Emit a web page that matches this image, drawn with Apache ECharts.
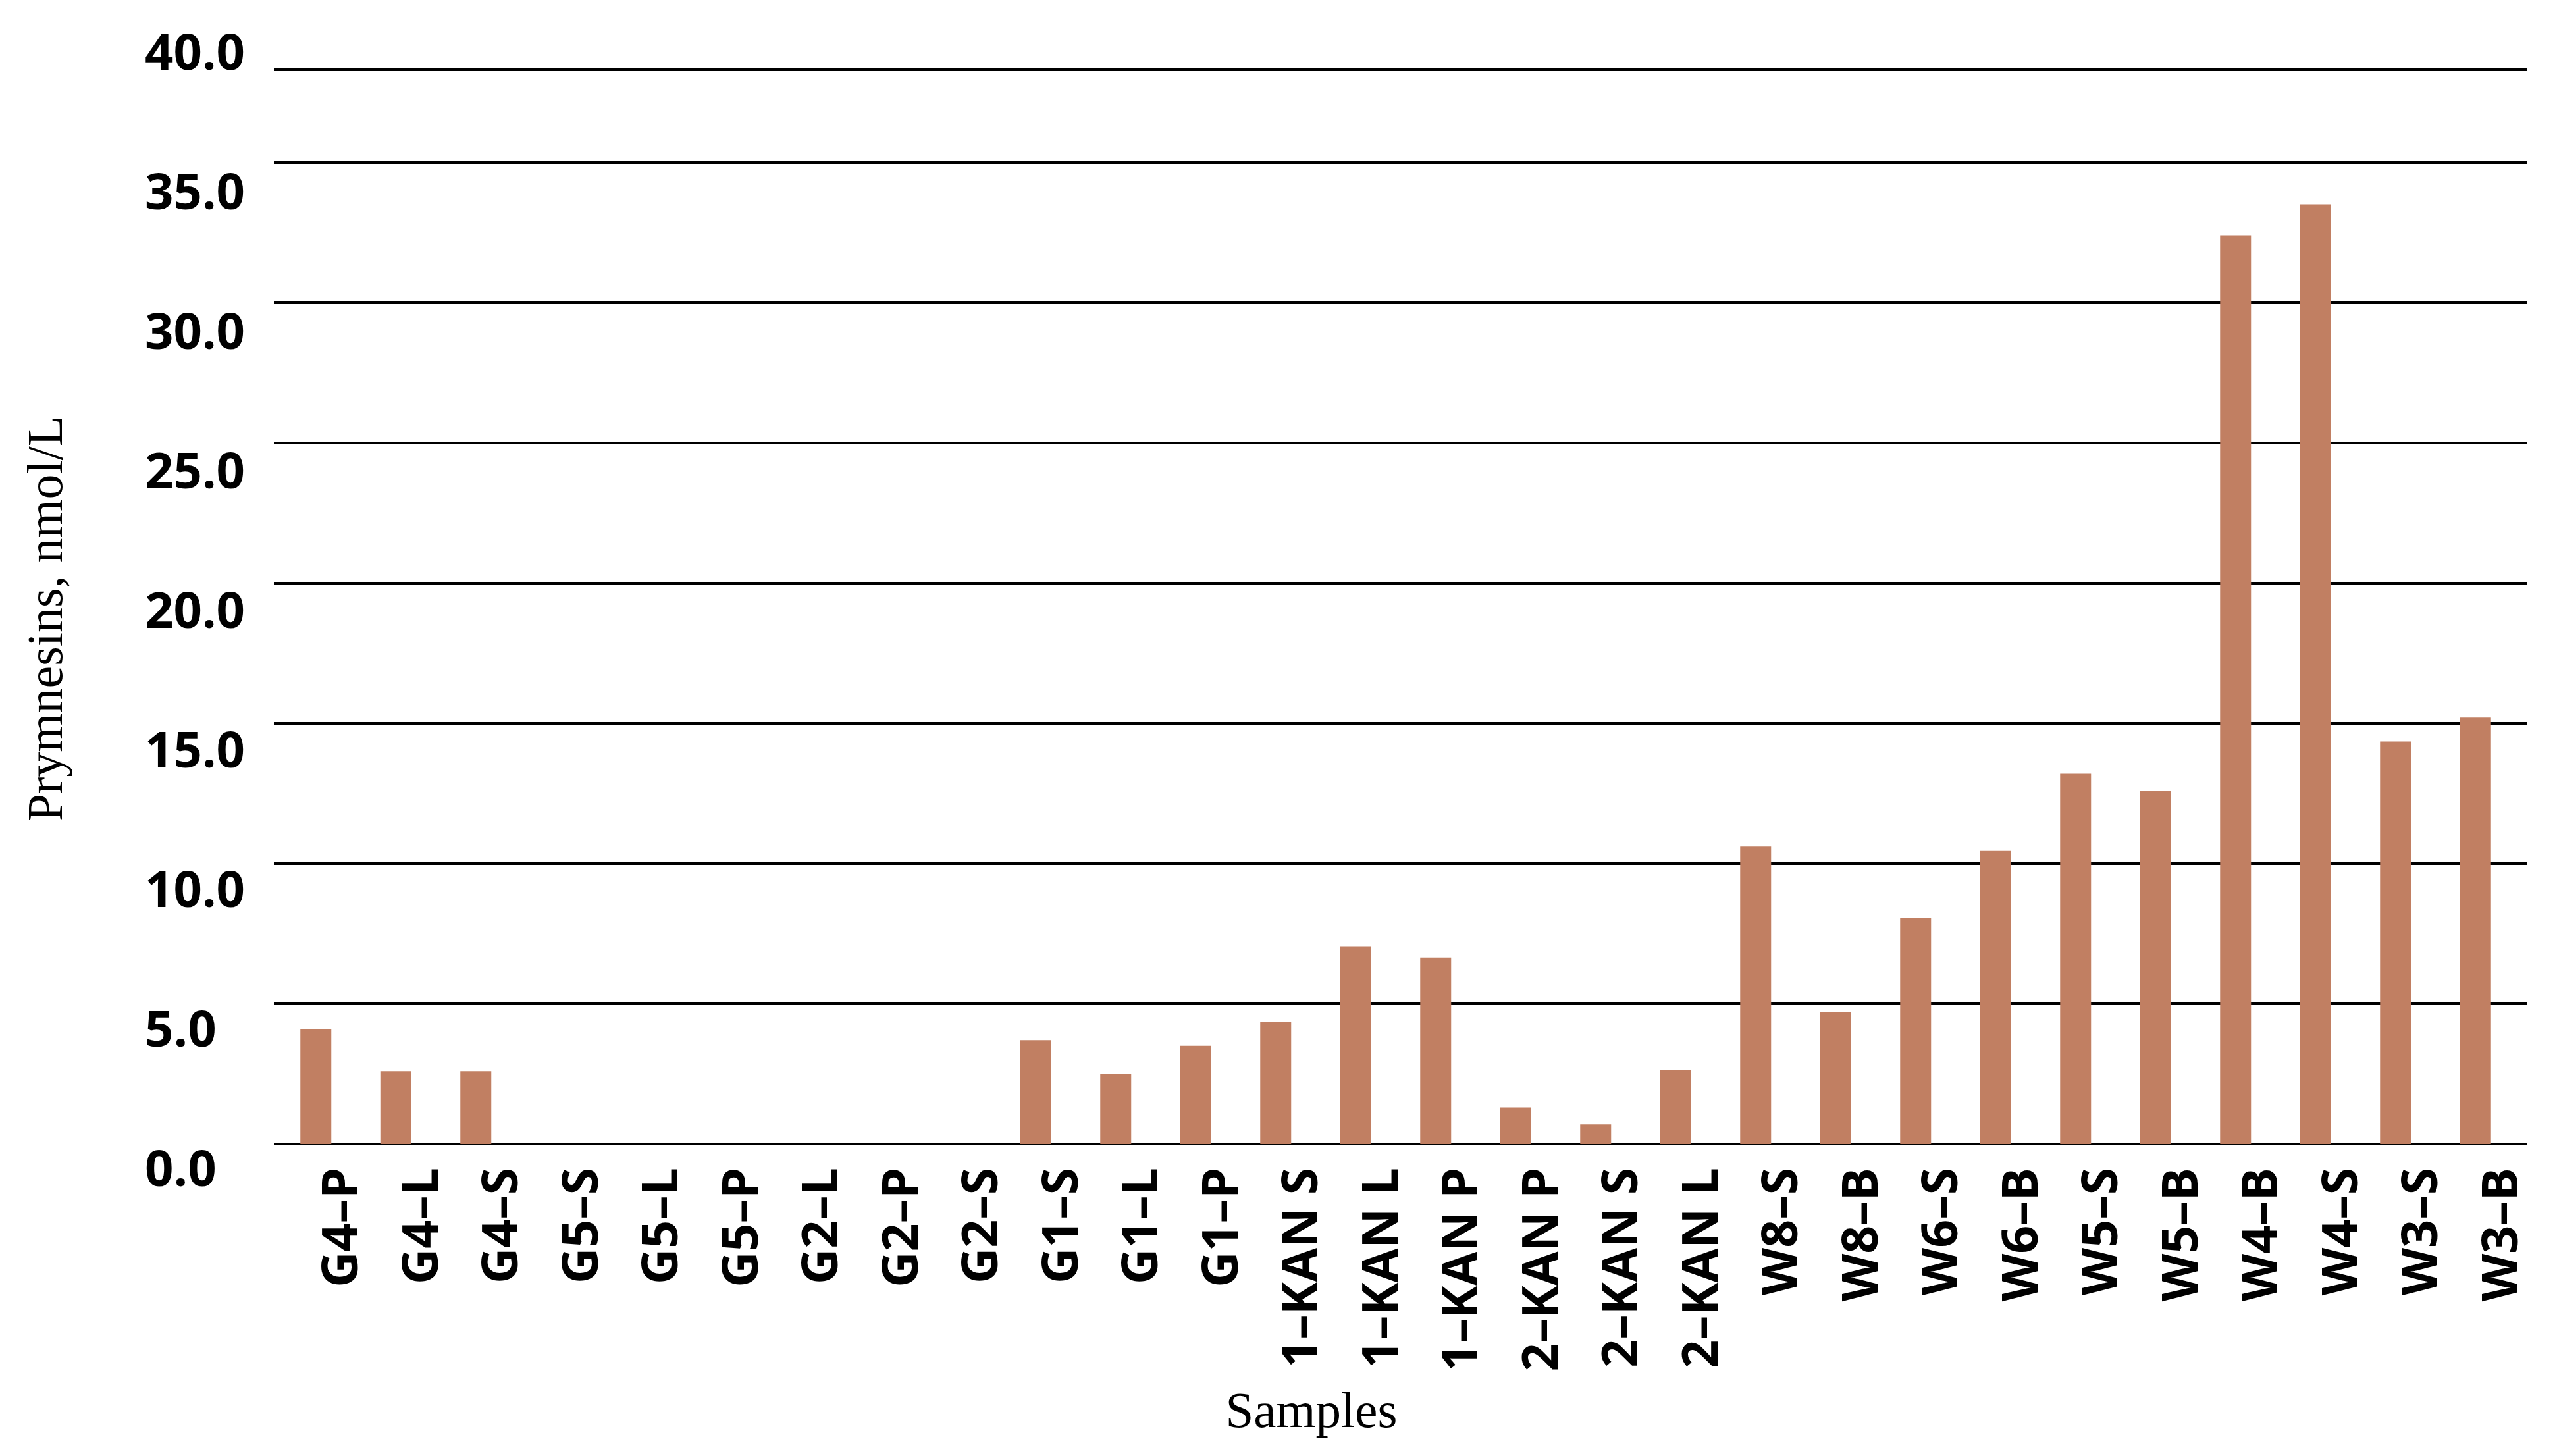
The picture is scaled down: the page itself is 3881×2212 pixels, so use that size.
<!DOCTYPE html>
<html>
<head>
<meta charset="utf-8">
<script src="https://cdn.jsdelivr.net/npm/echarts@6/dist/echarts.min.js"></script>
<style>
html,body{margin:0;padding:0;background:#fff;}
#chart{width:3881px;height:2212px;}
</style>
</head>
<body>
<div id="chart"></div>
<script>
const categories = ['G4–P','G4–L','G4–S','G5–S','G5–L','G5–P','G2–L','G2–P','G2–S','G1–S','G1–L','G1–P',
  '1–KAN S','1–KAN L','1–KAN P','2–KAN P','2–KAN S','2–KAN L',
  'W8–S','W8–B','W6–S','W6–B','W5–S','W5–B','W4–B','W4–S','W3–S','W3–B'];
const prymnesins = [4.1,2.6,2.6,0,0,0,0,0,0,3.7,2.5,3.5,
  4.35,7.05,6.65,1.3,0.7,2.65,
  10.6,4.7,8.05,10.45,13.2,12.6,32.4,33.5,14.35,15.2];
const yTickLabels = ['0.0','5.0','10.0','15.0','20.0','25.0','30.0','35.0','40.0'];
const yTitle = 'Prymnesins, nmol/L';
const xTitle = 'Samples';

const plotTopValue = 38.3;
const sansFont = '"Open Sans", "Noto Sans", sans-serif';
const serifFont = '"Liberation Serif", "DejaVu Serif", serif';

const chart = echarts.init(document.getElementById('chart'), null, {renderer:'canvas'});
chart.setOption({
  backgroundColor:'#ffffff',
  animation:false,
  grid:[
    {left:416, right:43, top:106, bottom:474},
    {left:419, right:60, top:106, bottom:474},
    {left:220, width:10, top:84, bottom:432}
  ],
  xAxis:[
    {gridIndex:0, type:'value', show:false, min:0, max:1},
    {gridIndex:1, type:'category', data:categories,
      axisLine:{show:false}, axisTick:{show:false},
      axisLabel:{interval:0, rotate:90, margin:36, fontFamily:sansFont, fontWeight:'bold',
        fontSize:75, color:'#000', verticalAlign:'top', lineHeight:84}},
    {gridIndex:2, type:'value', show:false, min:0, max:1}
  ],
  yAxis:[
    {gridIndex:0, type:'value', min:0, max:plotTopValue, interval:5,
      axisLine:{show:false}, axisTick:{show:false}, axisLabel:{show:false},
      splitLine:{show:true, lineStyle:{color:'#000', width:4}}},
    {gridIndex:1, type:'value', min:0, max:plotTopValue, show:false, splitLine:{show:false}},
    {gridIndex:2, type:'value', min:0, max:40, interval:5,
      axisLine:{show:false}, axisTick:{show:false}, splitLine:{show:false},
      axisLabel:{margin:0, align:'left', fontFamily:sansFont, fontWeight:'bold', fontSize:76, color:'#000',
        formatter:function(v){ const i=Math.round(v/5); return yTickLabels[i] || ''; }}}
  ],
  series:[
    {type:'bar', xAxisIndex:1, yAxisIndex:1, data:prymnesins, barWidth:47,
      itemStyle:{color:'#C17F62'}}
  ],
  graphic:[
    {type:'text', x:74, y:940, rotation:Math.PI/2,
      style:{text:yTitle, font:'76px '+serifFont, fill:'#000', textAlign:'center', textVerticalAlign:'middle'}},
    {type:'text', x:1992, y:2148,
      style:{text:xTitle, font:'77px '+serifFont, fill:'#000', textAlign:'center', textVerticalAlign:'middle'}}
  ]
});
</script>
</body>
</html>
